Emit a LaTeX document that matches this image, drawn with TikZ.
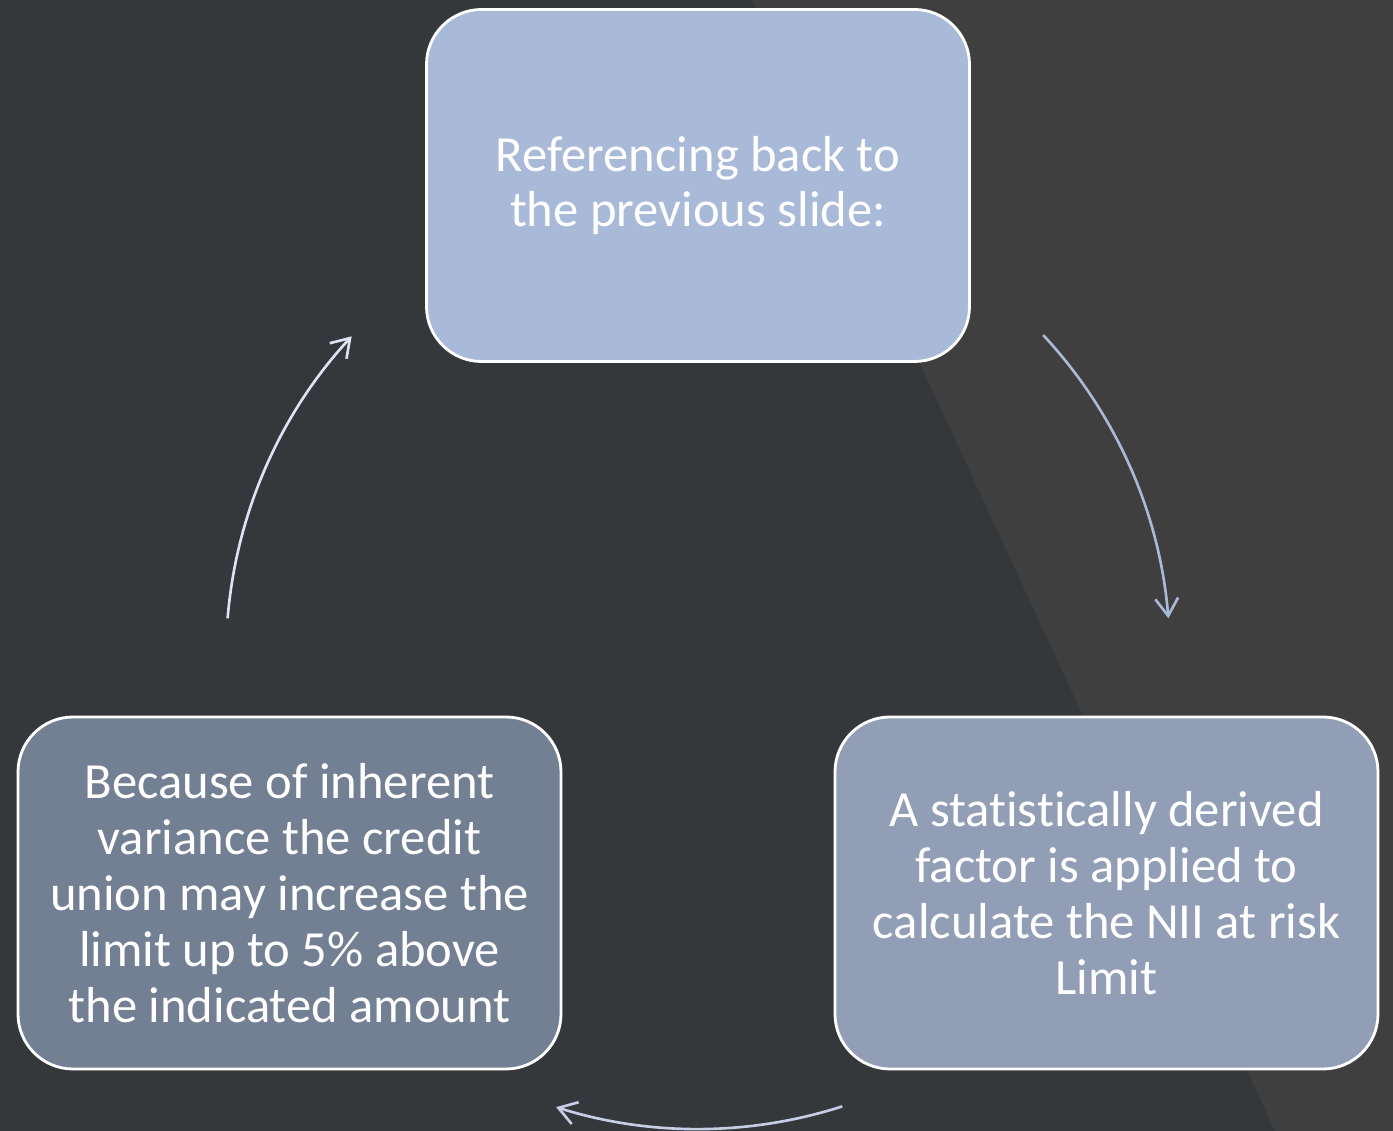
\documentclass[tikz,border=0pt]{standalone}
\usepackage{fontspec}
\setmainfont{Carlito}[Ligatures=NoCommon]
\usetikzlibrary{arrows.meta}
\definecolor{bgdark}{HTML}{35383B}
\definecolor{bglight}{HTML}{3F3F3F}
\definecolor{boxtop}{HTML}{A9B9D8}
\definecolor{boxright}{HTML}{919EB5}
\definecolor{boxleft}{HTML}{737F92}
\definecolor{arrright}{HTML}{A9B9D8}
\definecolor{arrbottom}{HTML}{C5CEE5}
\definecolor{arrleft}{HTML}{DDE3F0}
\tikzset{
  stepbox/.style={draw=white, line width=0.8pt, rounded corners=0.55cm,
    minimum width=5.43cm, minimum height=3.52cm, align=center,
    text=white, font=\fontsize{14.4}{15.9}\selectfont},
  cyclearr/.style={line width=0.75pt, -{Straight Barb[length=5pt,width=6.5pt]}}
}
\begin{document}
\begin{tikzpicture}
\useasboundingbox (0,0) rectangle (13.93,11.31);
\fill[bgdark] (0,0) rectangle (13.93,11.31);
\fill[bglight] (7.52,11.31) -- (13.93,11.31) -- (13.93,0) -- (12.75,0) -- cycle;
\node[stepbox, fill=boxtop] (ref) at (6.98,9.455) {Referencing back to\\the previous slide:};
\node[stepbox, fill=boxright] (factor) at (11.065,2.38) {A statistically derived\\factor is applied to\\calculate the NII at risk\\Limit};
\node[stepbox, fill=boxleft] (var) at (2.895,2.38) {Because of inherent\\variance the credit\\union may increase the\\limit up to 5\% above\\the indicated amount};
% cycle arrows on one circle
\coordinate (c) at (6.98,4.74);
\path (c) ++(43:4.72) coordinate (s1);
\path (c) ++(-72.2:4.72) coordinate (s2);
\path (c) ++(175.3:4.72) coordinate (s3);
\draw[cyclearr, arrright] (s1) arc[start angle=43, end angle=4.7, radius=4.72];
\draw[cyclearr, arrbottom] (s2) arc[start angle=-72.2, end angle=-107.5, radius=4.72];
\draw[cyclearr, arrleft] (s3) arc[start angle=175.3, end angle=137.2, radius=4.72];
\end{tikzpicture}
\end{document}
